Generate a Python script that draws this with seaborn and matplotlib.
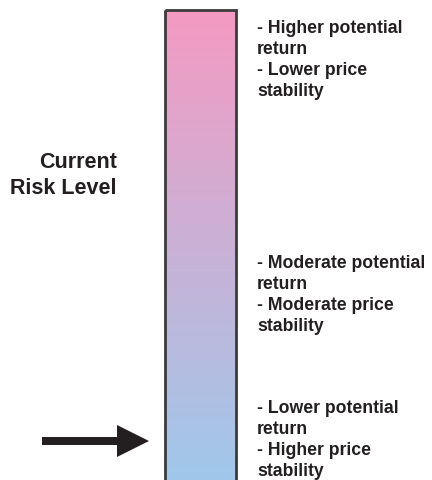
import numpy as np
import matplotlib
matplotlib.use("Agg")
import matplotlib.pyplot as plt
from matplotlib.patches import Rectangle
import seaborn as sns

# chart content
level_label = "Current\nRisk Level"
notes = [
    "- Higher potential\nreturn\n- Lower price\nstability",
    "- Moderate potential\nreturn\n- Moderate price\nstability",
    "- Lower potential\nreturn\n- Higher price\nstability",
]
current_risk = 0.083          # 0 = bottom of the scale, 1 = top
risk_colors = ["#A0C8EA", "#F49AC2"]   # low -> high

sns.set_style("white")
plt.rcParams["font.family"] = ["Liberation Sans", "DejaVu Sans"]

W, H = 432, 480
fig = plt.figure(figsize=(W / 100, H / 100), dpi=100)
ax = fig.add_axes([0, 0, 1, 1])
ax.set_xlim(0, W)
ax.set_ylim(H, 0)
ax.axis("off")

# bar geometry (pixels)
bx0, bx1, by_top, by_bot = 165, 236, 10, 480


def risk_to_y(r):
    return by_bot - (by_bot - by_top) * r


# gradient bar
cmap = sns.blend_palette(risk_colors, as_cmap=True)
grad = np.linspace(1, 0, 256).reshape(-1, 1)
ax.imshow(grad, cmap=cmap, aspect="auto", origin="upper",
          extent=[bx0, bx1, by_bot, by_top], vmin=0, vmax=1)
ax.add_patch(Rectangle((bx0, by_top), bx1 - bx0, by_bot - by_top + 20,
                       fill=False, edgecolor="#3b3b3b", lw=2, clip_on=True))

ink = "#231f20"
fs = 12.7
for txt, ytop in zip(notes, [20, 255, 400]):
    ax.text(257, ytop, txt, ha="left", va="top", fontsize=fs,
            fontweight="bold", color=ink, linespacing=1.32)

ax.text(117, 152, level_label, ha="right", va="top", multialignment="right",
        fontsize=15.5, fontweight="bold", color=ink, linespacing=1.3)

# arrow pointing at current level
ya = risk_to_y(current_risk)
ax.arrow(42, ya, 149 - 42, 0, width=8, head_width=32, head_length=32,
         length_includes_head=True, color=ink, lw=0)

fig.savefig("out.png", dpi=100)
